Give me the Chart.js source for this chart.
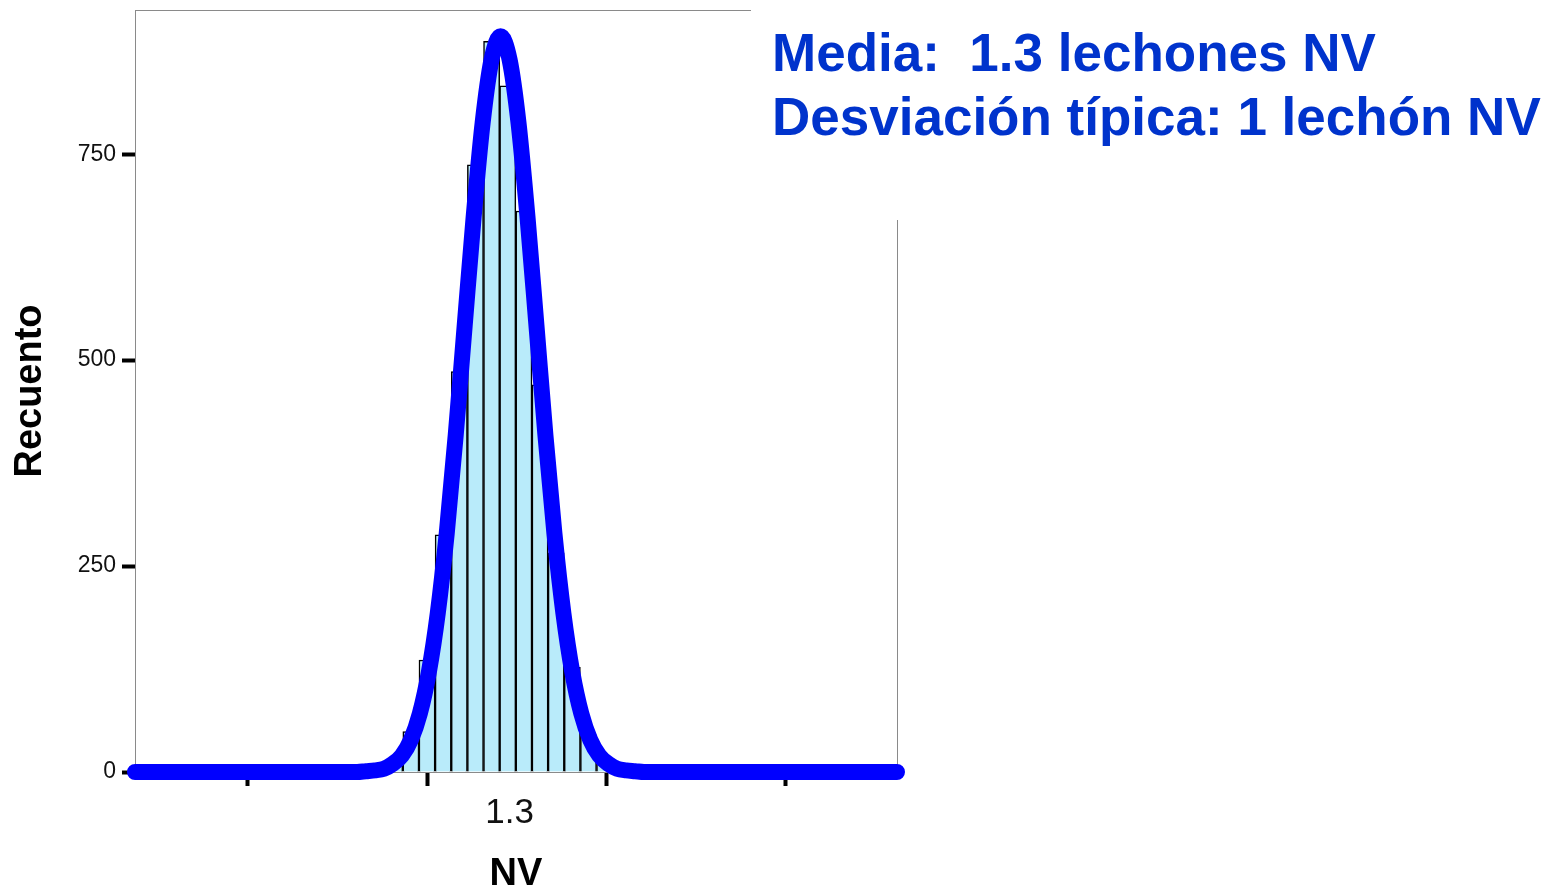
<!DOCTYPE html>
<html>
<head>
<meta charset="utf-8">
<script src="https://cdn.jsdelivr.net/npm/chart.js@4"></script>
<style>
  body { margin: 0; background: #fff; }
  #chart-wrapper { width: 1550px; height: 890px; }
</style>
</head>
<body>
<div id="chart-wrapper"><canvas id="chart" width="1550" height="890"></canvas></div>
<script>
// histogram bins (NV) and counts
const binCenters = [-1.9, -1.45, -1.0, -0.55, -0.1, 0.35, 0.8, 1.25, 1.7, 2.15, 2.6, 3.05, 3.5, 3.95];
const binCounts = [8, 49, 136, 288, 486, 737, 887, 833, 681, 470, 266, 127, 45, 12];

// normal curve
const curveX = [-9.14, -2.95, -2.7, -2.45, -2.2, -1.95, -1.7, -1.45, -1.2, -0.95, -0.7, -0.45, -0.2, 0.05,
  0.3, 0.55, 0.8, 1.05, 1.3, 1.55, 1.8, 2.05, 2.3, 2.55, 2.8, 3.05, 3.3, 3.55, 3.8, 4.05, 4.3, 4.55, 4.8, 5.05, 12.1];
const curveY = [0, 0, 1, 2, 4, 10, 20, 39, 71, 121, 193, 290, 409, 542,
  674, 788, 865, 893, 865, 788, 674, 542, 409, 290, 193, 121, 71, 39, 20, 10, 4, 2, 1, 0, 0];

// axes
const xTickValues = [-6, -1, 1.3, 4, 9];
const xTickLabels = ["", "", "1.3", "", ""];
const yTickValues = [0, 250, 500, 750];

const titleLines = ["Media:  1.3 lechones NV", "Desviación típica: 1 lechón NV"];

const FONT = "'Liberation Sans', Arial, sans-serif";

const frameAndTitle = {
  id: "frameAndTitle",
  beforeDatasetsDraw(chart) {
    const { ctx, chartArea } = chart;
    ctx.save();
    ctx.strokeStyle = "#8a8a8a";
    ctx.lineWidth = 1;
    ctx.strokeRect(chartArea.left + 0.5, chartArea.top + 0.5,
      chartArea.right - chartArea.left, chartArea.bottom - chartArea.top);
    ctx.restore();
  },
  afterDraw(chart) {
    const { ctx } = chart;
    ctx.save();
    // the text box hides the top-right corner of the frame
    ctx.fillStyle = "#fff";
    ctx.fillRect(751, 0, 800, 220);
    ctx.fillStyle = "#0033cc";
    ctx.font = "bold 53px " + FONT;
    ctx.textBaseline = "alphabetic";
    ctx.fillText(titleLines[0], 772, 71);
    ctx.fillText(titleLines[1], 772, 135);
    ctx.restore();
  }
};

const chart = new Chart(document.getElementById("chart").getContext("2d"), {
  type: "bar",
  data: {
    datasets: [
      {
        type: "line",
        data: curveX.map((x, i) => ({ x: x, y: curveY[i] })),
        borderColor: "#0000ff",
        borderWidth: 16,
        borderCapStyle: "round",
        borderJoinStyle: "round",
        pointRadius: 0,
        cubicInterpolationMode: "monotone",
        clip: false,
        order: 0
      },
      {
        type: "bar",
        data: binCenters.map((x, i) => ({ x: x, y: binCounts[i] })),
        backgroundColor: "#b9ebfa",
        borderColor: "#000",
        borderWidth: 1.5,
        borderSkipped: "bottom",
        barPercentage: 1,
        categoryPercentage: 1,
        order: 1
      }
    ]
  },
  options: {
    responsive: false,
    animation: false,
    events: [],
    layout: { padding: { top: 10, right: 653, bottom: 0, left: 0 } },
    plugins: { legend: { display: false }, tooltip: { enabled: false } },
    scales: {
      x: {
        type: "linear",
        min: -9.14,
        max: 12.1,
        offset: false,
        afterBuildTicks: (scale) => {
          scale.ticks = xTickValues.map((v) => ({ value: v }));
        },
        afterFit: (scale) => {
          scale.height = 118;
          scale.paddingLeft = 0;
          scale.paddingRight = 0;
        },
        border: { display: false },
        grid: {
          offset: false,
          drawOnChartArea: false,
          tickLength: 14,
          tickWidth: 4,
          tickColor: (c) => (xTickLabels[c.index] ? "rgba(0,0,0,0)" : "#000")
        },
        ticks: {
          autoSkip: false,
          maxRotation: 0,
          padding: 6,
          color: "#111",
          font: { family: FONT, size: 35 },
          callback: (value, index) => xTickLabels[index]
        },
        title: {
          display: true,
          text: "NV",
          color: "#000",
          font: { family: FONT, size: 38, weight: "bold", lineHeight: 0.8 },
          padding: { top: 0, bottom: 0 }
        }
      },
      y: {
        min: 0,
        max: 925,
        afterBuildTicks: (scale) => {
          scale.ticks = yTickValues.map((v) => ({ value: v }));
        },
        afterFit: (scale) => {
          scale.width = 135;
          scale.paddingTop = 0;
          scale.paddingBottom = 0;
        },
        border: { display: false },
        grid: {
          drawOnChartArea: false,
          tickLength: 13,
          tickWidth: 4,
          tickColor: "#000"
        },
        ticks: {
          padding: 6,
          color: "#111",
          font: { family: FONT, size: 23 }
        },
        title: {
          display: true,
          text: "Recuento",
          color: "#000",
          font: { family: FONT, size: 38, weight: "bold", lineHeight: 1.2 },
          padding: { top: 8, bottom: 0 }
        }
      }
    }
  },
  plugins: [frameAndTitle]
});
</script>
</body>
</html>
